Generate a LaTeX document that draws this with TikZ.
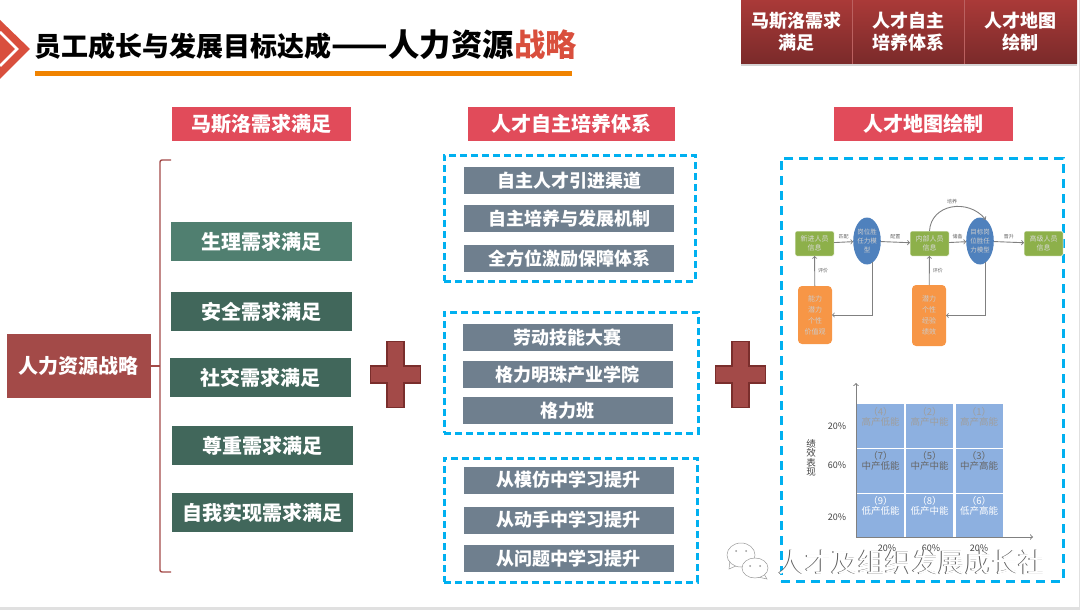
\documentclass[tikz,border=0pt]{standalone}
\usepackage{fontspec}
\setmainfont{Noto Sans CJK SC}
\definecolor{titlered}{RGB}{217,79,61}
\definecolor{titleline}{RGB}{240,131,0}
\definecolor{headred}{RGB}{225,75,90}
\definecolor{darkred}{RGB}{163,74,72}
\definecolor{plusedge}{RGB}{122,46,44}
\definecolor{tabtop}{RGB}{170,58,56}
\definecolor{tabbottom}{RGB}{122,42,42}
\definecolor{lightgreen}{RGB}{80,127,112}
\definecolor{darkgreen}{RGB}{65,103,91}
\definecolor{slate}{RGB}{111,127,142}
\definecolor{dashblue}{RGB}{0,176,240}
\definecolor{flowgreen}{RGB}{141,176,74}
\definecolor{flowblue}{RGB}{79,129,189}
\definecolor{floworange}{RGB}{247,150,70}
\definecolor{cellblue}{RGB}{141,176,224}
\usetikzlibrary{shapes.geometric,positioning,shadows,calc}
\tikzset{
  box/.style={inner sep=0,outer sep=0,align=center,text=white,
    font=\fontsize{20}{24}\selectfont\bfseries},
  headbox/.style={box,fill=headred,minimum height=34pt},
  needbox/.style={box,fill=darkgreen,minimum width=181pt,minimum height=39pt},
  trainbox/.style={box,fill=slate,minimum width=210pt,minimum height=27pt,
    font=\fontsize{18}{22}\selectfont\bfseries},
  tabbox/.style={box,top color=tabtop,bottom color=tabbottom,
    minimum height=64pt,font=\fontsize{18}{22}\selectfont\bfseries,
    drop shadow={shadow xshift=0pt,shadow yshift=-2pt,opacity=.35}},
  groupbox/.style={draw=dashblue,line width=3pt,dash pattern=on 7pt off 4pt,inner sep=0},
  plusmark/.style={fill=darkred,draw=plusedge,line width=1.8pt},
  titletext/.style={inner sep=0,anchor=base west,font=\fontsize{#1}{#1}\selectfont\bfseries},
  flowbox/.style={box,fill=flowgreen,draw=white,line width=.5pt,rounded corners=1.5pt,
    minimum width=39pt,minimum height=25pt,font=\fontsize{7}{9}\selectfont,text=white!85!black},
  flowoval/.style={box,ellipse,fill=flowblue,minimum width=26pt,minimum height=47pt,
    font=\fontsize{6.5}{9}\selectfont,text=white!80!black},
  flownote/.style={box,fill=floworange,rounded corners=4pt,minimum width=34pt,
    font=\fontsize{7}{11}\selectfont,text=white!80!black},
  flowarrow/.style={draw=black!50,->,line width=.9pt},
  flowtext/.style={inner sep=0,font=\fontsize{5}{6}\selectfont,text=black!60},
  cellbox/.style={inner sep=0,outer sep=0,fill=cellblue,minimum width=47pt,minimum height=44pt},
  celltext/.style={inner sep=0,anchor=north,yshift=-3pt,align=center,
    font=\fontsize{9.5}{10}\selectfont},
  axislabel/.style={inner sep=0,font=\fontsize{9}{10}\selectfont,text=black!75},
}
\begin{document}
\begin{tikzpicture}[x=1pt,y=-1pt]
  \useasboundingbox (0,0) rectangle (1080,610);
  \fill[black!12] (0,607) rectangle (1080,610);
  \fill[black!12] (1078.5,0) rectangle (1080,610);

  % title
  \fill[titlered] (0,20) -- (30,49) -- (0,79) -- cycle;
  \draw[white,line width=2.5pt] (0,32) -- (17,49) -- (0,66);
  \node[titletext=27] (titleA) at (34,57) {员工成长与发展目标达成};
  \node[titletext=33] (titleDash) at (titleA.base east) {——};
  \node[titletext=31.3] (titleB) at (titleDash.base east) {人力资源};
  \node[titletext=31.3,text=titlered] (titleC) at (titleB.base east) {战略};
  \fill[titleline] (35,71) rectangle (572,76);

  % tabs at the top
  \node[tabbox,minimum width=111pt] (tabA) at (796.5,32) {马斯洛需求\\满足};
  \node[tabbox,minimum width=112pt] (tabB) at (908,32) {人才自主\\培养体系};
  \node[tabbox,minimum width=113pt] (tabC) at (1020.5,32) {人才地图\\绘制};
  \draw[tabtop!80!white,line width=.6pt] (tabA.north east) -- (tabA.south east);
  \draw[tabtop!80!white,line width=.6pt] (tabB.north east) -- (tabB.south east);

  \node[headbox,minimum width=179pt] (headA) at (261.5,124) {马斯洛需求满足};
  \node[headbox,minimum width=207pt] (headB) at (571.5,124) {人才自主培养体系};
  \node[headbox,minimum width=179pt] (headC) at (923.5,124) {人才地图绘制};

  % left column
  \node[box,fill=darkred,minimum width=144pt,minimum height=64pt] (lead) at (79,366) {人力资源战略};
  \foreach \n/\x/\y/\t in {a/260.5/377.5/社交需求满足,b/261.5/311.5/安全需求满足,
      c/262.5/445.5/尊重需求满足,d/262.5/512.5/自我实现需求满足} {
    \node[needbox] (need\n) at (\x,\y) {\t};
  }
  \node[needbox,fill=lightgreen] (needz) at (261.5,241.5) {生理需求满足};
  \coordinate (braceTop) at (171,160);
  \coordinate (braceBot) at (171,572);
  \coordinate (braceMid) at (160,366);
  \draw[darkred,line width=1.4pt,rounded corners=2pt] (braceTop) -- (160,160) -- (160,572) -- (braceBot);
  \draw[darkred,line width=1.4pt] (lead.east) -- (braceMid);

  \foreach \x in {395.5,740.5} {
    \draw[plusmark,shift={(\x,374.5)}] (-8.5,-33) -- (8.5,-33) -- (8.5,-8.5) -- (25,-8.5) -- (25,8.5)
      -- (8.5,8.5) -- (8.5,33) -- (-8.5,33) -- (-8.5,8.5) -- (-25,8.5) -- (-25,-8.5) -- (-8.5,-8.5) -- cycle;
  }

  % middle column
  \node[groupbox,minimum width=251pt,minimum height=126pt] (groupA) at (569.5,218) {};
  \node[groupbox,minimum width=254pt,minimum height=121pt] (groupB) at (571,372.5) {};
  \node[groupbox,minimum width=253pt,minimum height=124pt] (groupC) at (570.5,520) {};
  \node[groupbox,dash pattern=on 9pt off 6pt,minimum width=282pt,minimum height=423pt] (groupD) at (922,369.5) {};
  \foreach \n/\x/\y/\t in {a/569/180.5/自主人才引进渠道,b/569/218.5/自主培养与发展机制,c/569/258.5/全方位激励保障体系,
      d/567.5/337.5/劳动技能大赛,e/567.5/374.5/格力明珠产业学院,f/567.5/410.5/格力班,
      g/568.5/480/从模仿中学习提升,h/568.5/520/从动手中学习提升,i/568.5/558.5/从问题中学习提升} {
    \node[trainbox] (train\n) at (\x,\y) {\t};
  }

  % talent map flow
  \node[flowbox] (flowNew) at (814.5,243.5) {新进人员\\信息};
  \node[flowoval] (ovalA) at (867,241) {岗位胜\\任力模\\型};
  \node[flowbox] (flowInner) at (929.5,243.5) {内部人员\\信息};
  \node[flowoval] (ovalB) at (980,241) {目标岗\\位胜任\\力模型};
  \node[flowbox] (flowHigh) at (1043.5,243.5) {高级人员\\信息};
  \node[flownote,minimum height=58pt] (noteA) at (815,315) {能力\\潜力\\个性\\价值观};
  \node[flownote,minimum height=61pt] (noteB) at (929,315.5) {潜力\\个性\\经验\\绩效};
  \draw[flowarrow] (flowNew) -- node[flowtext,above=3pt] (textA) {匹配} (ovalA);
  \draw[flowarrow] (ovalA) -- node[flowtext,above=3pt] (textB) {配置} (flowInner);
  \draw[flowarrow] (flowInner) -- node[flowtext,above=3pt] (textC) {储备} (ovalB);
  \draw[flowarrow] (ovalB) -- node[flowtext,above=3pt] (textD) {晋升} (flowHigh);
  \draw[flowarrow] (noteA) -- node[flowtext,right=3pt] (textE) {评价} (flowNew);
  \draw[flowarrow] (noteB) -- node[flowtext,right=3pt] (textF) {评价} (flowInner);
  \draw[flowarrow] (ovalA.-75) |- (noteA.east);
  \draw[flowarrow] (ovalB.-75) |- (noteB.east);
  \draw[flowarrow] (flowInner.north) .. controls (931,204) and (968,198) .. (ovalB.75);
  \node[flowtext] (textG) at (952,202) {培养};

  % nine box
  \coordinate (axisOrigin) at (856,537);
  \coordinate (axisTop) at (856,383);
  \coordinate (axisEnd) at (1033,537);
  \foreach \n/\x/\y/\t/\c in {4/880.5/426/高产低能/black!38,2/929.5/426/高产中能/black!38,1/979/426/高产高能/black!38,
      7/880.5/470.5/中产低能/black!60,5/929.5/470.5/中产中能/black!60,3/979/470.5/中产高能/black!60,
      9/880.5/515.5/低产低能/white!75,8/929.5/515.5/低产中能/white!75,6/979/515.5/低产高能/white!75} {
    \node[cellbox] (cell\n) at (\x,\y) {};
    \node[celltext,text=\c] (cellText\n) at (cell\n.north) {（\n）\\\t};
  }
  \draw[black!50,->,line width=1pt] (axisOrigin) -- (axisTop);
  \draw[black!50,->,line width=1pt] (axisOrigin) -- (axisEnd);
  \node[axislabel] (rowA) at (837,426) {20\%};
  \node[axislabel] (rowB) at (837,465) {60\%};
  \node[axislabel] (rowC) at (837,517) {20\%};
  \node[axislabel] (colA) at (887,548) {20\%};
  \node[axislabel] (colB) at (931,548) {60\%};
  \node[axislabel] (colC) at (979,548) {20\%};
  \node[axislabel,align=center,font=\fontsize{9.5}{9.6}\selectfont] (rowName) at (811,458) {绩\\效\\表\\现};

  % watermark
  \draw[black!40,fill=white,line width=.5pt] (730,560) -- (729,569) -- (738,565);
  \draw[black!40,fill=white,line width=.5pt] (741,555) ellipse [x radius=14,y radius=12];
  \draw[black!40,fill=white,line width=.5pt] (764,574) -- (767,579) -- (758,577);
  \draw[black!40,fill=white,line width=.5pt] (755,568) ellipse [x radius=13,y radius=10];
  \foreach \x/\y in {736/551,746/551,750/566,760/566} {
    \fill[black!40] (\x,\y) circle [radius=1];
  }
  \node[inner sep=0,font=\fontsize{26.7}{28}\selectfont,text=black!65] (markShade) at (911,562.8) {人才及组织发展成长社};
  \node[inner sep=0,font=\fontsize{26.7}{28}\selectfont,text=white] (markText) at (912,562) {人才及组织发展成长社};
\end{tikzpicture}
\end{document}
